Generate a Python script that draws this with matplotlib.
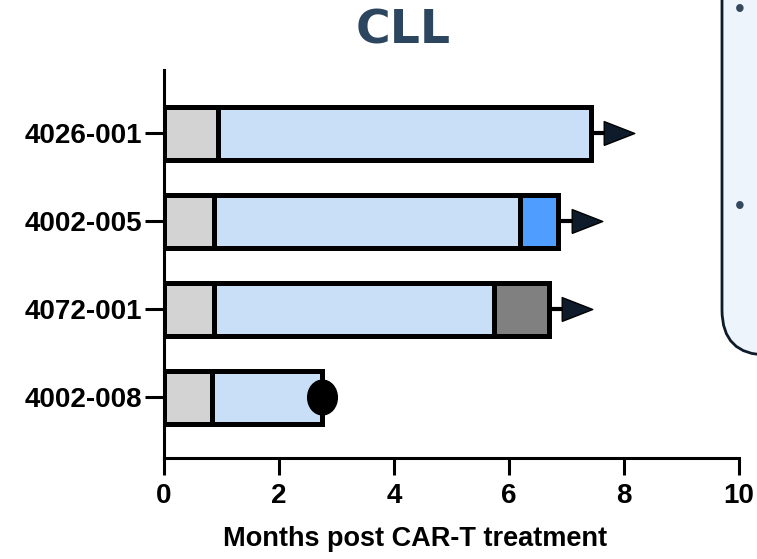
import matplotlib.pyplot as plt
from matplotlib.patches import FancyBboxPatch
from matplotlib.path import Path
from matplotlib.transforms import Affine2D

# data (months post CAR-T)
patients = ['4026-001', '4002-005', '4072-001', '4002-008']
pre_end = [0.94, 0.87, 0.87, 0.83]          # grey segment
cart_end = [7.42, 6.19, 5.74, 2.74]         # light blue segment
extra_end = [None, 6.86, 6.70, None]        # third segment
extra_col = [None, '#4f9dff', '#808080', None]
ongoing = [True, True, True, False]
death = [False, False, False, True]

plt.rcParams['font.family'] = ['Liberation Sans', 'DejaVu Sans']

fig = plt.figure(figsize=(7.57, 5.59), dpi=100)
ax = fig.add_axes([164 / 757, 1 - 458 / 559, (739 - 164) / 757, (458 - 70) / 559])

ypos = list(range(len(patients)))[::-1]
h = 0.6
lw = 3.6

for i, y in enumerate(ypos):
    ax.barh(y, pre_end[i], left=0, height=h, color='#d3d3d3', edgecolor='black', linewidth=lw, zorder=3)
    ax.barh(y, cart_end[i] - pre_end[i], left=pre_end[i], height=h, color='#c9def7',
            edgecolor='black', linewidth=lw, zorder=3)
    end = cart_end[i]
    if extra_end[i] is not None:
        ax.barh(y, extra_end[i] - cart_end[i], left=cart_end[i], height=h, color=extra_col[i],
                edgecolor='black', linewidth=lw, zorder=3)
        end = extra_end[i]
    if ongoing[i]:
        ax.plot([end, end + 0.25], [y, y], color='black', lw=3, solid_capstyle='round', zorder=4)
        tri = [(-1, -0.78), (1, 0), (-1, 0.78), (-1, -0.78)]
        ax.plot(end + 0.49, y, marker=tri, markersize=22, color='#0d1b2a',
                markeredgecolor='black', markeredgewidth=1, zorder=5)
    if death[i]:
        oval = Path.unit_circle().transformed(Affine2D().scale(1, 1.17))
        ax.plot(end, y, marker=oval, markersize=25, color='black', zorder=5)

ax.set_xlim(0, 10)
ax.set_ylim(-0.69, 3.72)
ax.set_xticks([0, 2, 4, 6, 8, 10])
ax.set_yticks(ypos)
ax.set_yticklabels(patients)

for s in ['top', 'right']:
    ax.spines[s].set_visible(False)
for s in ['left', 'bottom']:
    ax.spines[s].set_linewidth(2.2)

ax.tick_params(axis='x', length=12, width=2.2, pad=6, labelsize=20)
ax.tick_params(axis='y', length=14, width=2.2, pad=2, labelsize=20)
for lab in ax.get_xticklabels() + ax.get_yticklabels():
    lab.set_fontweight('bold')

ax.set_xlabel('Months post CAR-T treatment', fontsize=19.5, fontweight='bold')
ax.xaxis.set_label_coords(0.437, -0.175)

fig.text(403 / 757, 1 - 43 / 559, 'CLL', ha='center', va='baseline', fontsize=34,
         fontweight='bold', color='#2d4660', family=['DejaVu Sans'])

# clipped side panel on the right
panel = FancyBboxPatch((7.22, 2.04), 1.5, 4.5, boxstyle='round,pad=0,rounding_size=0.45',
                       transform=fig.dpi_scale_trans, facecolor='#eef4fb', edgecolor='#0d1b2a',
                       linewidth=2, zorder=0)
fig.patches.append(panel)
for yy in [10, 207]:
    fig.text(740 / 757, 1 - yy / 559, '\u2022', ha='center', va='center', fontsize=20,
             color='#34495e')

fig.savefig('out.png', dpi=100)
